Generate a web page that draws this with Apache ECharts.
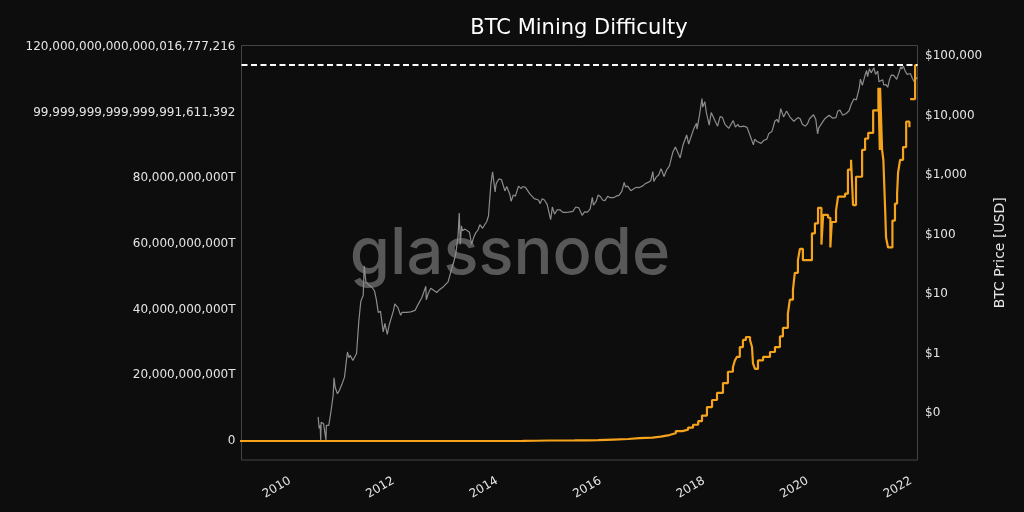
<!DOCTYPE html>
<html><head><meta charset="utf-8">
<script src="https://cdn.jsdelivr.net/npm/echarts@6/dist/echarts.min.js"></script>
<style>html,body{margin:0;padding:0;background:#0d0d0d}#c{width:1024px;height:512px}</style>
</head><body><div id="c"></div>
<script>
const chartTitle = 'BTC Mining Difficulty';
const rightAxisName = 'BTC Price [USD]';
const watermarkText = 'glassnode';
const xTickYears = [2010, 2012, 2014, 2016, 2018, 2020, 2022];
const xRange = ['2009-01-23', '2022-02-15'];
// left axis: difficulty in T (labels as printed on the reference)
const leftTickValuesT = [0, 4.648, 9.296, 13.944, 18.592, 23.24, 27.888];
const leftTickLabels = ['0', '20,000,000,000T', '40,000,000,000T', '60,000,000,000T', '80,000,000,000T',
  '99,999,999,999,999,991,611,392', '120,000,000,000,000,016,777,216'];
const leftRangeT = [-1.345, 27.99];
// right axis: BTC price USD (log)
const rightTickValues = [0.1, 1, 10, 100, 1000, 10000, 100000];
const rightTickLabels = ['$0', '$1', '$10', '$100', '$1,000', '$10,000', '$100,000'];
const rightRangeUSD = [0.0162, 150000];

// Mining difficulty (T), step changes
const difficulty = [
  ['2009-01-03', 0], ['2010-07-01', 0.000001], ['2011-07-01', 0.0000015], ['2012-07-01', 0.0000019],
  ['2013-01-01', 0.0000034], ['2013-07-01', 0.000026], ['2013-12-01', 0.0007], ['2014-04-01', 0.0067],
  ['2014-07-01', 0.017], ['2014-10-01', 0.035], ['2015-01-01', 0.041], ['2015-07-01', 0.049],
  ['2015-10-01', 0.06], ['2015-12-15', 0.1], ['2016-04-01', 0.14], ['2016-07-15', 0.2],
  ['2016-10-01', 0.24], ['2017-01-01', 0.31], ['2017-03-01', 0.42], ['2017-05-01', 0.55],
  ['2017-06-15', 0.7], ['2017-08-01', 0.8], ['2017-09-10', 0.95], ['2017-10-15', 1.15],
  ['2017-11-20', 1.4], ['2017-12-17', 1.8], ['2018-01-21', 2.4], ['2018-02-26', 2.9],
  ['2018-04-02', 3.4], ['2018-05-14', 4.1], ['2018-06-18', 4.9], ['2018-07-23', 5.2],
  ['2018-08-06', 5.7], ['2018-08-20', 5.95], ['2018-09-10', 6.65], ['2018-10-02', 7.15],
  ['2018-10-23', 7.36], ['2018-11-21', 7.15], ['2018-12-05', 6.65], ['2018-12-12', 5.5],
  ['2018-12-26', 5.1], ['2019-01-16', 5.7], ['2019-02-21', 5.95], ['2019-04-11', 6.3],
  ['2019-05-16', 6.65], ['2019-06-20', 7.4], ['2019-07-11', 8.0], ['2019-08-15', 9.0],
  ['2019-08-29', 10.0], ['2019-09-20', 10.7], ['2019-10-03', 11.9], ['2019-10-25', 12.8],
  ['2019-11-08', 13.6], ['2019-11-29', 12.8], ['2020-02-01', 14.7], ['2020-02-22', 15.4],
  ['2020-03-15', 16.5], ['2020-04-08', 13.9], ['2020-04-20', 16.0], ['2020-05-25', 15.8],
  ['2020-06-10', 13.7], ['2020-06-20', 15.5], ['2020-07-20', 16.3], ['2020-08-03', 17.3],
  ['2020-09-22', 17.5], ['2020-10-12', 19.2], ['2020-11-03', 19.9], ['2020-11-17', 16.7],
  ['2020-12-08', 18.7], ['2021-01-20', 20.6], ['2021-02-10', 21.4], ['2021-03-04', 21.8],
  ['2021-04-08', 23.4], ['2021-05-15', 25.0], ['2021-05-25', 20.6], ['2021-05-27', 25.0],
  ['2021-06-10', 20.6], ['2021-06-19', 19.9], ['2021-07-03', 16.0], ['2021-07-08', 14.4],
  ['2021-07-22', 13.7], ['2021-08-22', 15.6], ['2021-09-09', 16.8], ['2021-09-24', 17.5],
  ['2021-10-01', 19.0], ['2021-10-15', 19.9], ['2021-11-05', 20.8], ['2021-11-27', 22.6],
  ['2021-12-20', 22.2], ['2021-12-23', null], ['2021-12-25', 24.2], ['2022-01-29', 26.6],
  ['2022-02-14', 26.6]
];

// BTC price (USD)
const btcPrice = [
  ['2010-07-18', 0.086], ['2010-07-25', 0.055], ['2010-08-01', 0.062], ['2010-08-05', 0.035],
  ['2010-08-08', 0.07], ['2010-08-25', 0.066], ['2010-09-11', 0.035], ['2010-09-14', 0.062],
  ['2010-10-01', 0.062], ['2010-10-15', 0.10], ['2010-11-01', 0.20], ['2010-11-07', 0.39],
  ['2010-11-15', 0.27], ['2010-12-01', 0.21], ['2010-12-15', 0.24], ['2011-01-01', 0.30],
  ['2011-01-20', 0.40], ['2011-02-01', 0.72], ['2011-02-10', 1.06], ['2011-02-20', 0.85],
  ['2011-03-01', 0.93], ['2011-03-20', 0.76], ['2011-04-01', 0.78], ['2011-04-15', 1.0],
  ['2011-05-01', 3.5], ['2011-05-15', 7.5], ['2011-06-01', 9.5], ['2011-06-08', 29.6],
  ['2011-06-20', 16], ['2011-07-01', 15.4], ['2011-07-15', 13.8], ['2011-08-01', 13.1],
  ['2011-08-20', 11.2], ['2011-09-01', 8.2], ['2011-09-15', 4.9], ['2011-10-01', 5.1],
  ['2011-10-20', 2.3], ['2011-11-01', 3.2], ['2011-11-18', 2.1], ['2011-12-01', 3.0],
  ['2011-12-15', 3.2], ['2012-01-01', 5.3], ['2012-01-10', 6.8], ['2012-02-01', 5.9],
  ['2012-02-20', 4.4], ['2012-03-01', 4.9], ['2012-04-01', 4.9], ['2012-05-01', 5.0],
  ['2012-06-01', 5.3], ['2012-06-20', 6.5], ['2012-07-01', 6.7], ['2012-07-20', 8.8],
  ['2012-08-01', 9.3], ['2012-08-16', 13.5], ['2012-08-19', 8.0], ['2012-09-01', 10.1],
  ['2012-09-20', 12.5], ['2012-10-01', 12.4], ['2012-11-01', 10.6], ['2012-11-20', 11.8],
  ['2012-12-01', 12.6], ['2012-12-20', 13.4], ['2013-01-01', 13.3], ['2013-01-20', 16.0],
  ['2013-02-01', 20.4], ['2013-02-20', 29.5], ['2013-03-01', 34.5], ['2013-03-15', 47],
  ['2013-03-31', 93], ['2013-04-09', 230], ['2013-04-16', 68], ['2013-04-25', 140],
  ['2013-05-01', 116], ['2013-05-20', 123], ['2013-06-01', 129], ['2013-06-20', 109],
  ['2013-07-05', 68], ['2013-07-20', 90], ['2013-08-01', 104], ['2013-08-20', 120],
  ['2013-09-01', 146], ['2013-09-20', 127], ['2013-10-01', 125], ['2013-10-20', 165],
  ['2013-11-01', 204], ['2013-11-18', 700], ['2013-11-30', 1130], ['2013-12-04', 1150],
  ['2013-12-18', 520], ['2013-12-25', 700], ['2014-01-01', 770], ['2014-01-15', 860],
  ['2014-02-01', 830], ['2014-02-25', 540], ['2014-03-10', 640], ['2014-04-01', 470],
  ['2014-04-10', 360], ['2014-04-25', 460], ['2014-05-10', 440], ['2014-06-01', 650],
  ['2014-06-20', 590], ['2014-07-01', 640], ['2014-07-20', 620], ['2014-08-01', 590],
  ['2014-08-20', 480], ['2014-09-01', 480], ['2014-09-20', 400], ['2014-10-01', 380],
  ['2014-10-20', 380], ['2014-11-01', 330], ['2014-11-15', 400], ['2014-12-01', 380],
  ['2014-12-20', 320], ['2015-01-01', 315], ['2015-01-14', 178], ['2015-01-26', 290],
  ['2015-02-10', 220], ['2015-03-01', 260], ['2015-03-20', 260], ['2015-04-10', 235],
  ['2015-05-01', 235], ['2015-05-20', 237], ['2015-06-01', 225], ['2015-06-20', 245],
  ['2015-07-10', 290], ['2015-08-01', 280], ['2015-08-24', 210], ['2015-09-10', 240],
  ['2015-10-01', 237], ['2015-10-20', 270], ['2015-11-04', 420], ['2015-11-12', 310],
  ['2015-12-01', 360], ['2015-12-15', 460], ['2016-01-01', 430], ['2016-01-15', 380],
  ['2016-02-01', 370], ['2016-02-20', 440], ['2016-03-10', 415], ['2016-04-01', 415],
  ['2016-04-20', 440], ['2016-05-10', 455], ['2016-05-30', 530], ['2016-06-16', 750],
  ['2016-06-25', 630], ['2016-07-10', 650], ['2016-08-02', 545], ['2016-08-20', 580],
  ['2016-09-10', 620], ['2016-10-01', 615], ['2016-10-25', 655], ['2016-11-10', 710],
  ['2016-12-01', 750], ['2016-12-20', 800], ['2017-01-04', 1140], ['2017-01-11', 780],
  ['2017-01-25', 900], ['2017-02-15', 1010], ['2017-03-03', 1280], ['2017-03-24', 940],
  ['2017-04-10', 1200], ['2017-05-01', 1420], ['2017-05-25', 2400], ['2017-06-12', 2950],
  ['2017-06-27', 2450], ['2017-07-16', 1930], ['2017-08-05', 3200], ['2017-08-31', 4700],
  ['2017-09-14', 3300], ['2017-10-01', 4400], ['2017-10-20', 6000], ['2017-11-08', 7400],
  ['2017-11-12', 5900], ['2017-11-29', 10000], ['2017-12-17', 19300], ['2017-12-22', 13800],
  ['2018-01-06', 17100], ['2018-01-17', 11200], ['2018-02-06', 6900], ['2018-02-20', 11200],
  ['2018-03-05', 11500], ['2018-03-18', 8200], ['2018-04-06', 6600], ['2018-04-24', 9600],
  ['2018-05-10', 9300], ['2018-05-28', 7100], ['2018-06-24', 6100], ['2018-07-25', 8200],
  ['2018-08-10', 6400], ['2018-08-28', 7100], ['2018-09-05', 6500], ['2018-09-20', 6500],
  ['2018-10-10', 6600], ['2018-10-31', 6300], ['2018-11-20', 4700], ['2018-12-15', 3200],
  ['2018-12-24', 4000], ['2019-01-10', 3650], ['2019-02-07', 3400], ['2019-02-25', 3800],
  ['2019-03-20', 4000], ['2019-04-03', 5000], ['2019-04-25', 5400], ['2019-05-15', 8000],
  ['2019-05-30', 8600], ['2019-06-10', 7600], ['2019-06-26', 13000], ['2019-07-16', 9400],
  ['2019-07-28', 9500], ['2019-08-06', 11900], ['2019-08-29', 9500], ['2019-09-10', 10100],
  ['2019-09-26', 8000], ['2019-10-10', 8600], ['2019-10-25', 9200], ['2019-11-10', 8800],
  ['2019-11-25', 7100], ['2019-12-17', 6600], ['2019-12-31', 7200], ['2020-01-15', 8800],
  ['2020-02-12', 10300], ['2020-02-28', 8600], ['2020-03-12', 4900], ['2020-03-20', 6200],
  ['2020-04-01', 6600], ['2020-04-30', 8700], ['2020-05-10', 8600], ['2020-06-01', 10100],
  ['2020-06-27', 9000], ['2020-07-20', 9200], ['2020-08-01', 11800], ['2020-08-17', 12300],
  ['2020-09-05', 10100], ['2020-09-30', 10800], ['2020-10-20', 12000], ['2020-11-05', 15600],
  ['2020-11-24', 19100], ['2020-12-10', 18200], ['2020-12-31', 29000], ['2021-01-08', 40900],
  ['2021-01-22', 32000], ['2021-02-08', 46000], ['2021-02-21', 57000], ['2021-02-28', 45000],
  ['2021-03-13', 61000], ['2021-03-25', 52000], ['2021-04-13', 63500], ['2021-04-25', 49000],
  ['2021-05-10', 56000], ['2021-05-19', 37000], ['2021-06-01', 36500], ['2021-06-14', 40000],
  ['2021-06-22', 32500], ['2021-07-08', 33000], ['2021-07-20', 29800], ['2021-08-01', 39900],
  ['2021-08-14', 47800], ['2021-08-31', 47100], ['2021-09-07', 46800], ['2021-09-21', 40600],
  ['2021-10-06', 51500], ['2021-10-20', 65900], ['2021-10-28', 60500], ['2021-11-08', 67500],
  ['2021-11-18', 56900], ['2021-12-04', 49000], ['2021-12-27', 50700], ['2022-01-10', 41800],
  ['2022-01-24', 36600], ['2022-02-01', 38700], ['2022-02-10', 43500], ['2022-02-14', 42000]
];

const ts = s => { const p = s.split('-').map(Number); return new Date(p[0], p[1] - 1, p[2]).getTime(); };
const pick = (vals, labels) => v => {
  for (let i = 0; i < vals.length; i++) if (Math.abs(vals[i] - v) <= Math.abs(vals[i]) * 1e-6 + 1e-9) return labels[i];
  return '';
};
const FONT = 'DejaVu Sans';
const LABEL_COLOR = '#e4e4e4';

const chart = echarts.init(document.getElementById('c'), null, { renderer: 'canvas', width: 1024, height: 512 });
chart.setOption({
  backgroundColor: '#0d0d0d',
  animation: false,
  title: {
    text: chartTitle, left: 579, top: 18, padding: 0, textAlign: 'center',
    textStyle: { color: '#ffffff', fontSize: 21, fontWeight: 'normal', fontFamily: FONT }
  },
  graphic: [{
    type: 'text', x: 510, y: 254, z: 0, silent: true,
    style: { text: watermarkText, fill: '#585858', font: '500 65px Inter', textAlign: 'center', textVerticalAlign: 'middle' }
  }],
  grid: { left: 241.5, right: 106.5, top: 45.5, bottom: 52, show: true, borderColor: '#444', borderWidth: 1, backgroundColor: 'transparent' },
  xAxis: {
    type: 'value', min: ts(xRange[0]), max: ts(xRange[1]),
    axisLine: { show: false }, axisTick: { show: false }, splitLine: { show: false },
    axisLabel: {
      customValues: xTickYears.map(y => new Date(y, 0, 1).getTime()),
      formatter: v => String(new Date(v).getFullYear()),
      rotate: 30, margin: 20, color: LABEL_COLOR, fontSize: 12, fontFamily: FONT
    }
  },
  yAxis: [{
    type: 'value', position: 'left', min: leftRangeT[0], max: leftRangeT[1],
    axisLine: { show: false }, axisTick: { show: false }, splitLine: { show: false },
    axisLabel: { customValues: leftTickValuesT, formatter: pick(leftTickValuesT, leftTickLabels),
      margin: 6, color: LABEL_COLOR, fontSize: 12, fontFamily: FONT }
  }, {
    type: 'log', position: 'right', min: rightRangeUSD[0], max: rightRangeUSD[1],
    name: rightAxisName, nameLocation: 'middle', nameGap: 68, nameRotate: 90,
    nameTextStyle: { color: LABEL_COLOR, fontSize: 14, fontFamily: FONT },
    axisLine: { show: false }, axisTick: { show: false }, splitLine: { show: false },
    axisLabel: { customValues: rightTickValues, formatter: pick(rightTickValues, rightTickLabels),
      margin: 7.5, color: LABEL_COLOR, fontSize: 12, fontFamily: FONT }
  }],
  series: [{
    name: 'BTC Price', type: 'line', yAxisIndex: 1, z: 2, showSymbol: false, symbol: 'none',
    data: btcPrice.map(d => [ts(d[0]), d[1]]),
    lineStyle: { color: '#8c8c8c', width: 1.2 }
  }, {
    name: 'Mining Difficulty', type: 'line', yAxisIndex: 0, z: 3, showSymbol: false, symbol: 'none',
    step: 'end', connectNulls: false,
    data: difficulty.map(d => [ts(d[0]), d[1]]),
    lineStyle: { color: '#f5a31a', width: 2.2 },
    markLine: {
      silent: true, symbol: ['none', 'none'], label: { show: false },
      lineStyle: { color: '#ffffff', type: [6, 3.5], width: 2 },
      data: [{ type: 'max' }]
    }
  }]
});
</script></body></html>
